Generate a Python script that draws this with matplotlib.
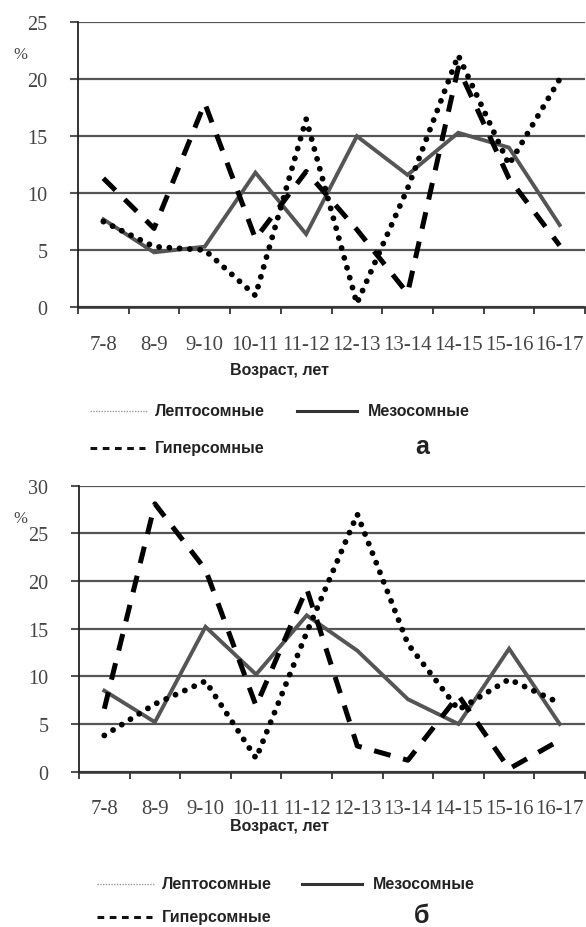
import matplotlib.pyplot as plt
import numpy as np

# age groups
ages = ['7-8', '8-9', '9-10', '10-11', '11-12', '12-13', '13-14', '14-15', '15-16', '16-17']

# panel a
lepto_a = [7.5, 5.3, 5.0, 1.0, 16.5, 0.3, 10.4, 22.1, 12.5, 20.0]
meso_a = [7.7, 4.8, 5.3, 11.8, 6.4, 15.0, 11.6, 15.3, 14.0, 7.2]
hyper_a = [11.3, 6.9, 17.9, 6.0, 11.9, 6.8, 1.2, 21.0, 11.3, 5.4]

# panel b
lepto_b = [3.8, 7.1, 9.5, 1.4, 14.6, 27.0, 13.4, 6.5, 9.7, 7.2]
meso_b = [8.5, 5.2, 15.2, 10.2, 16.4, 12.7, 7.6, 5.0, 12.9, 5.0]
hyper_b = [6.6, 28.1, 21.2, 6.9, 19.2, 2.7, 1.2, 8.0, 0.3, 3.3]

W, H = 586, 928
fig = plt.figure(figsize=(W / 100, H / 100), dpi=100)


def px(x, y):
    return x / W, 1 - y / H


def panel(rect, lepto, meso, hyper, ymax):
    ax = fig.add_axes(rect)
    x = np.arange(len(ages))
    ax.plot(x, meso, color='#555555', lw=2.8, solid_joinstyle='miter', zorder=3)
    ax.plot(x, lepto, color='black', lw=4.2, linestyle=(0, (0.01, 1.75)),
            dash_capstyle='round', zorder=4)
    ax.plot(x, hyper, color='black', lw=3.6, linestyle=(0, (3.4, 2.6)),
            dash_capstyle='butt', zorder=4)
    ax.set_xlim(-0.5, len(ages) - 0.5)
    ax.set_ylim(0, ymax)
    ax.set_yticks(np.arange(0, ymax + 1, 5))
    ax.grid(axis='y', color='#555555', lw=1.6)
    ax.set_axisbelow(True)
    for s in ['top', 'right', 'bottom']:
        ax.spines[s].set_visible(False)
    ax.spines['left'].set_linewidth(1.3)
    ax.spines['left'].set_color('#222222')
    ax.set_xticks(x)
    ax.set_xticklabels(ages, family='Liberation Serif', fontsize=15, color='#444444')
    ax.set_xticks(np.arange(-0.5, len(ages)), minor=True)
    ax.tick_params(axis='x', which='major', length=0, pad=20)
    ax.tick_params(axis='x', which='minor', length=5, width=1.3, color='#333333')
    ax.tick_params(axis='y', length=6, width=1.5, color='#555555', pad=16,
                   labelsize=14.5, labelcolor='#444444')
    for lab in ax.get_yticklabels():
        lab.set_family('Liberation Serif')
    # zero line with ticks
    ax.axhline(0, color='#333333', lw=1.8, zorder=2, clip_on=False)
    return ax


panel([78 / W, 1 - 308 / H, 507 / W, (308 - 23.3) / H], lepto_a, meso_a, hyper_a, 25)
panel([79 / W, 1 - 772.7 / H, 506 / W, (772.7 - 486.7) / H], lepto_b, meso_b, hyper_b, 30)

serif = 'Liberation Serif'
sans = 'Liberation Sans'

fig.text(*px(20, 55), '%', family=serif, fontsize=12, color='#444444', ha='center', va='center')
fig.text(*px(20, 519), '%', family=serif, fontsize=12, color='#444444', ha='center', va='center')


def legend(y_xlabel, y1, y2, letter, x0, x_meso):
    fig.text(*px(280, y_xlabel), 'Возраст, лет', family=sans, fontweight='bold',
             fontsize=11.5, color='#222222', ha='center', va='center')
    # line samples
    fig.add_artist(plt.Line2D([x0 / W, (x0 + 57) / W], [1 - y1 / H] * 2,
                              color='#999999', lw=1.0, linestyle=(0, (1, 1))))
    fig.add_artist(plt.Line2D([x_meso / W, (x_meso + 60) / W], [1 - y1 / H] * 2,
                              color='#333333', lw=2.2))
    fig.add_artist(plt.Line2D([x0 / W, (x0 + 55) / W], [1 - y2 / H] * 2,
                              color='#111111', lw=2.2, linestyle=(0, (2.2, 1.8))))
    fig.text(*px(x0 + 65, y1), 'Лептосомные', family=sans, fontweight='bold',
             fontsize=11.5, color='#222222', va='center')
    fig.text(*px(x_meso + 71, y1), 'Мезосомные', family=sans, fontweight='bold',
             fontsize=11.5, color='#222222', va='center')
    fig.text(*px(x0 + 65, y2), 'Гиперсомные', family=sans, fontweight='bold',
             fontsize=11.5, color='#222222', va='center')
    fig.text(*px(422, y2 - 2), letter, family=sans, fontweight='bold',
             fontsize=18, color='#222222', ha='center', va='center')


legend(370, 412, 449, 'а', 90, 297)
legend(827, 885, 918, 'б', 97, 302)

fig.savefig('out.png', dpi=100)
